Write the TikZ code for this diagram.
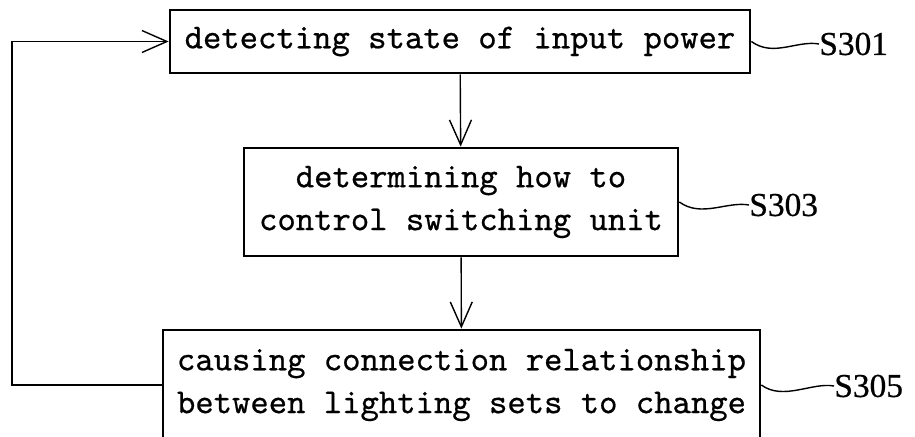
\documentclass[tikz,border=0pt]{standalone}
\usepackage{fontspec}
\setmainfont{Liberation Serif}
\newfontfamily\boxfont{lmmono10-regular.otf}[FakeBold=0.6]
\newfontfamily\tagfont{Liberation Serif}[FakeBold=0.6]
\usepackage{tikz}
\usetikzlibrary{arrows.meta}

\begin{document}
\begin{tikzpicture}[x=0.02cm, y=-0.02cm,
    stepbox/.style={draw, line width=1.6pt, inner sep=0pt, align=center,
      font=\boxfont\fontsize{19.9}{24.4}\selectfont},
    steplabel/.style={anchor=west, inner sep=0pt, font=\tagfont\fontsize{19}{22}\selectfont},
    flow/.style={line width=0.8pt, -{Straight Barb[length=0.5cm, width=0.44cm]}},
    wiggle/.style={line width=0.8pt}]
    \useasboundingbox (0,0) rectangle (915,436);
    % process steps
    \node[stepbox, minimum width=11.6cm, minimum height=1.26cm] (detect) at (460,41.5)
      {detecting state of input power};
    \node[stepbox, minimum width=8.68cm, minimum height=2.16cm] (determine) at (461,202)
      {determining how to\\control switching unit};
    \node[stepbox, minimum width=11.94cm, minimum height=2.2cm] (change) at (461.5,385)
      {causing connection relationship\\between lighting sets to change};
    % step numbers
    \node[steplabel] (s301) at (819,44) {S301};
    \node[steplabel] (s303) at (749,205) {S303};
    \node[steplabel] (s305) at (834,386) {S305};
    \draw[wiggle] (detect.east) .. controls +(22,16) and +(-22,-4) .. (s301.west);
    \draw[wiggle] (determine.east) .. controls +(22,16) and +(-22,-4) .. (s303.west);
    \draw[wiggle] (change.east) .. controls +(22,16) and +(-22,-4) .. (s305.west);
    % arrows
    \coordinate (back) at (12,0);
    \draw[flow] (detect) -- (determine);
    \draw[flow] (determine) -- (change);
    \draw[flow] (change.west) -- (change.west -| back) |- (detect.west);
\end{tikzpicture}
\end{document}
